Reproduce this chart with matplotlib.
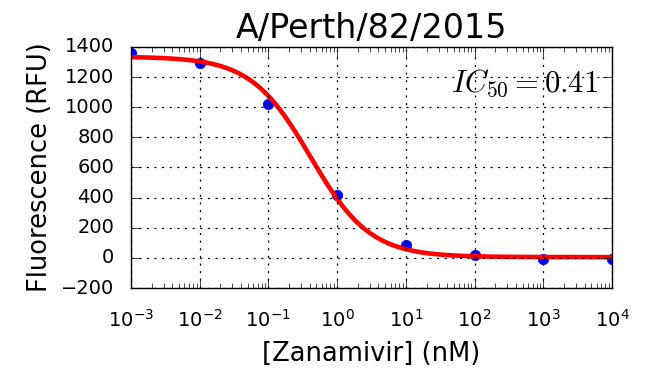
import numpy as np
import matplotlib
matplotlib.use('Agg')
import matplotlib.pyplot as plt

# measured points
conc = [1e-3, 1e-2, 1e-1, 1e0, 1e1, 1e2, 1e3, 1e4]
rfu = [1360, 1295, 1020, 415, 85, 18, -5, -5]

# fitted 4-parameter logistic
fit_top = 1335
fit_bottom = 5
ic50 = 0.41
hill = 1.0

plt.style.use('classic')
plt.rcParams['mathtext.fontset'] = 'cm'

fig = plt.figure(figsize=(6.5, 3.75), dpi=100, facecolor='white')
ax = fig.add_axes([0.2015, 0.232, 0.74, 0.643])

xfit = np.logspace(-3, 4, 300)
yfit = fit_bottom + (fit_top - fit_bottom) / (1 + (xfit / ic50) ** hill)

ax.plot(conc, rfu, 'bo', markersize=7.5, markeredgecolor='b')
ax.plot(xfit, yfit, 'r-', linewidth=3.3)

ax.set_xscale('log')
ax.set_xlim(1e-3, 1e4)
ax.set_ylim(-200, 1400)
ax.set_yticks(range(-200, 1401, 200))
ax.grid(True, color='k', linestyle=(0, (1.5, 4)), linewidth=0.9)
ax.tick_params(which='major', length=7, labelsize=14)
ax.tick_params(which='minor', length=3.5)
ax.tick_params(axis='x', pad=15)
ax.tick_params(axis='y', pad=12)

ax.set_title('A/Perth/82/2015', fontsize=24, y=1.01)
ax.set_xlabel('[Zanamivir] (nM)', fontsize=18.5, labelpad=7)
ax.set_ylabel('Fluorescence (RFU)', fontsize=18.5, labelpad=6)
ax.text(0.97, 0.85, r'$IC_{50}=0.41$', transform=ax.transAxes,
        ha='right', va='center', fontsize=22)

fig.savefig('out.png', dpi=100, facecolor='white')
